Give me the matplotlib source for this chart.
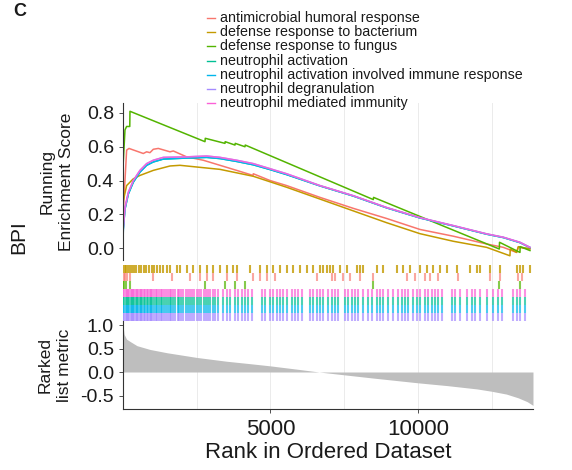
import matplotlib
matplotlib.use("Agg")
import matplotlib.pyplot as plt
from matplotlib.lines import Line2D

plt.rcParams['font.family'] = ['Liberation Sans', 'DejaVu Sans']

# gene sets, in legend order
set_names = ["antimicrobial humoral response",
             "defense response to bacterium",
             "defense response to fungus",
             "neutrophil activation",
             "neutrophil activation involved immune response",
             "neutrophil degranulation",
             "neutrophil mediated immunity"]
set_colors = ["#F8766D", "#C49A00", "#53B400", "#00C094",
              "#00B6EB", "#A58AFF", "#FB61D7"]

n_genes = 13900

# running enrichment score, (rank, score)
es_antimicrobial_rank = [1, 11, 124, 203, 689, 802, 915, 1028, 1198, 1593, 1706, 2158,
                         2723, 3288, 3853, 4410, 4418, 4983, 5548, 6678, 7808, 8938,
                         10068, 10633, 11198, 12328, 12893, 13345, 13402, 13797]
es_antimicrobial = [0.0, 0.22, 0.58, 0.59, 0.56, 0.57, 0.565, 0.585, 0.59, 0.57, 0.575, 0.54,
                    0.52, 0.49, 0.46, 0.43, 0.44, 0.40, 0.37, 0.30, 0.235, 0.175,
                    0.11, 0.09, 0.07, 0.024, 0.004, -0.026, 0.004, -0.005]

es_bacterium_rank = [1, 11, 124, 350, 576, 1028, 1593, 1932, 2497, 3288, 4418, 5548,
                     6678, 7808, 8938, 10068, 11198, 12328, 13119, 13130, 13345, 13402, 13797]
es_bacterium = [0.0, 0.28, 0.37, 0.41, 0.43, 0.46, 0.486, 0.49, 0.48, 0.466, 0.425, 0.36,
                0.29, 0.22, 0.15, 0.085, 0.04, 0.004, -0.046, -0.006, -0.026, 0.008, -0.005]

es_fungus_rank = [1, 68, 124, 230, 237, 2780, 2790, 3458, 3465, 3797, 3805, 4136, 4145,
                  8486, 8495, 12758, 12765, 13458, 13465, 13797]
es_fungus = [0.48, 0.70, 0.72, 0.72, 0.81, 0.63, 0.65, 0.62, 0.63, 0.61, 0.62, 0.60, 0.61,
             0.287, 0.30, -0.006, 0.034, -0.026, 0.008, -0.015]

es_neutrophil_rank = [1, 11, 68, 181, 350, 576, 802, 1028, 1367, 2158, 2836, 3288, 3853,
                      4418, 4983, 5548, 6678, 7808, 8938, 10068, 11198, 12328, 12893,
                      13458, 13797]
es_activation = [0.0, 0.11, 0.23, 0.32, 0.39, 0.45, 0.49, 0.51, 0.527, 0.533, 0.537, 0.53,
                 0.513, 0.493, 0.465, 0.435, 0.368, 0.308, 0.238, 0.178, 0.131, 0.082,
                 0.062, 0.032, 0.003]
es_degranulation = [0.0, 0.12, 0.24, 0.33, 0.40, 0.46, 0.50, 0.52, 0.537, 0.54, 0.545, 0.537,
                    0.52, 0.50, 0.47, 0.44, 0.37, 0.31, 0.24, 0.18, 0.133, 0.084,
                    0.064, 0.034, 0.004]

# hit positions (ranks) for each gene set
hits_antimicrobial = [34, 68, 136, 237, 1017, 1661, 2271, 2610, 2848, 3051, 3526, 3865, 4407,
                      4644, 4882, 5153, 6577, 7085, 7187, 7458, 7695, 8034, 8475, 9628,
                      9899, 10238, 10407, 10679, 11357, 12441, 12780, 13390, 13526]
hits_bacterium = [11, 60, 110, 170, 230, 300, 370, 450, 530, 620, 700, 790, 880, 970, 1060,
                  1160, 1260, 1370, 1480, 1593, 1819, 1932, 2158, 2384, 2610, 2836, 3062,
                  3288, 3514, 3740, 3853, 4305, 4644, 4870, 5096, 5322, 5548, 5774, 6000,
                  6226, 6452, 6678, 6791, 6904, 7017, 7130, 7356, 7582, 7921, 8034, 8147,
                  8599, 8825, 9277, 9503, 9729, 10068, 10294, 10520, 10746, 10972, 11311,
                  11763, 11989, 12102, 12441, 12780, 13345, 13458, 13571, 13797]
hits_fungus = [10, 40, 100, 240, 2780, 3458, 3797, 4136, 8486, 12758, 13458]
hits_neutrophil = [10, 50, 90, 130, 170, 210, 260, 300, 340, 390, 430, 480, 520, 570, 610,
                   660, 700, 750, 800, 840, 900, 950, 1000, 1060, 1110, 1160, 1220, 1280,
                   1330, 1390, 1450, 1510, 1580, 1640, 1700, 1770, 1850, 1910, 1980, 2050,
                   2120, 2200, 2270, 2340, 2420, 2500, 2570, 2650, 2730, 2800, 2880, 2960,
                   3040, 3119, 3232, 3401, 3514, 3627, 3797, 3910, 4023, 4136, 4249, 4362,
                   4701, 4814, 4983, 5096, 5209, 5322, 5435, 5548, 5718, 5831, 5944, 6057,
                   6339, 6452, 6565, 6678, 6791, 6961, 7074, 7187, 7300, 7526, 7639, 7752,
                   7865, 7978, 8147, 8317, 8430, 8599, 8712, 8825, 8995, 9164, 9334, 9447,
                   9560, 9673, 9842, 9955, 10068, 10238, 10351, 10464, 10577, 10690, 10803,
                   11142, 11255, 11424, 11650, 11820, 11933, 12102, 12328, 12554, 12724,
                   12837, 13232, 13345, 13458, 13628]

# ranked list metric, (rank, value)
metric_rank = [0, 40, 120, 240, 475, 915, 1490, 2500, 3500, 4340, 5000, 5900, 6650, 7500,
               8500, 9400, 10000, 11000, 12000, 12500, 13000, 13400, 13700, 13900]
metric_value = [1.0, 0.80, 0.70, 0.65, 0.56, 0.48, 0.41, 0.31, 0.23, 0.175, 0.13, 0.06, 0.0,
                -0.06, -0.13, -0.19, -0.23, -0.29, -0.36, -0.41, -0.47, -0.55, -0.63, -0.71]

grid_x = [2500, 5000, 7500, 10000, 12500]
txt = "#1A1A1A"
spine_col = "#333333"

fig = plt.figure(figsize=(5.72, 4.70), dpi=100)

# running enrichment score panel
ax1 = fig.add_axes([0.2150, 0.4468, 0.7168, 0.3340])
for g in grid_x:
    ax1.axvline(g, color="#EBEBEB", lw=0.7, zorder=0)
es_lines = [(es_antimicrobial_rank, es_antimicrobial),
            (es_bacterium_rank, es_bacterium),
            (es_fungus_rank, es_fungus),
            (es_neutrophil_rank, es_activation),
            (es_neutrophil_rank, es_activation),
            (es_neutrophil_rank, es_degranulation),
            (es_neutrophil_rank, es_degranulation)]
for (xr, yv), c in zip(es_lines, set_colors):
    ax1.plot(xr, yv, color=c, lw=1.1, alpha=0.85 if c == "#FB61D7" else 1.0)
ax1.set_xlim(0, n_genes)
ax1.set_ylim(-0.071, 0.859)
ax1.set_yticks([0.0, 0.2, 0.4, 0.6, 0.8])
ax1.set_yticklabels(["0.0", "0.2", "0.4", "0.6", "0.8"])
ax1.set_xticks([])
for s in ["top", "right", "bottom"]:
    ax1.spines[s].set_visible(False)
ax1.spines["left"].set_color(spine_col)
ax1.spines["left"].set_linewidth(0.8)
ax1.tick_params(axis="y", labelsize=14, colors=spine_col, labelcolor=txt, length=3, width=0.6)
ax1.set_ylabel("Running\nEnrichment Score", fontsize=12.5, color=txt, linespacing=1.35,
               labelpad=9)

# hits panel
ax2 = fig.add_axes([0.2150, 0.3170, 0.7168, 0.1298])
for g in grid_x:
    ax2.axvline(g, color="#EBEBEB", lw=0.7, zorder=0)
row_hits = [hits_bacterium, hits_antimicrobial, hits_fungus,
            hits_neutrophil, hits_neutrophil, hits_neutrophil, hits_neutrophil]
row_cols = [set_colors[1], set_colors[0], set_colors[2],
            set_colors[6], set_colors[3], set_colors[4], set_colors[5]]
row_alpha = [0.8, 0.65, 0.7, 0.7, 0.7, 0.7, 0.7]
for i, (h, c, a) in enumerate(zip(row_hits, row_cols, row_alpha)):
    ax2.vlines(h, i, i + 1, color=c, lw=1.5, alpha=a)
ax2.set_xlim(0, n_genes)
ax2.set_ylim(7, -0.625)
ax2.axis("off")

# ranked list metric panel
ax3 = fig.add_axes([0.2150, 0.1298, 0.7168, 0.1872])
for g in grid_x:
    ax3.axvline(g, color="#EBEBEB", lw=0.7, zorder=0)
ax3.fill_between(metric_rank, metric_value, 0, color="#BEBEBE", lw=0)
ax3.set_xlim(0, n_genes)
ax3.set_ylim(-0.787, 1.085)
ax3.set_yticks([1.0, 0.5, 0.0, -0.5])
ax3.set_yticklabels(["1.0", "0.5", "0.0", "-0.5"])
ax3.set_xticks([5000, 10000])
ax3.set_xticklabels(["5000", "10000"])
for s in ["top", "right"]:
    ax3.spines[s].set_visible(False)
for s in ["left", "bottom"]:
    ax3.spines[s].set_color(spine_col)
    ax3.spines[s].set_linewidth(0.8)
ax3.tick_params(axis="y", labelsize=14, colors=spine_col, labelcolor=txt, length=3, width=0.6)
ax3.tick_params(axis="x", labelsize=16, colors=spine_col, labelcolor=txt, length=3, width=0.6,
                pad=4)
ax3.set_ylabel("Rarked\nlist metric", fontsize=12.5, color=txt, linespacing=1.35, labelpad=6)
ax3.set_xlabel("Rank in Ordered Dataset", fontsize=16, color=txt, labelpad=2)

# legend
for k, (name, c) in enumerate(zip(set_names, set_colors)):
    yc = 1 - (18 + 14.2 * k) / 470
    fig.add_artist(Line2D([207 / 572, 215 / 572], [yc, yc], color=c, lw=1.0))
    fig.text(220 / 572, yc, name, fontsize=10.3, color=txt, va="center", ha="left")

fig.text(19 / 572, 1 - 237 / 470, "BPI", fontsize=15, rotation=90, color=txt,
         ha="center", va="center")
fig.text(13 / 572, 1 - 12 / 470, "C", fontsize=13, fontweight="bold", color=txt,
         ha="left", va="center")

fig.savefig("out.png", dpi=100)
